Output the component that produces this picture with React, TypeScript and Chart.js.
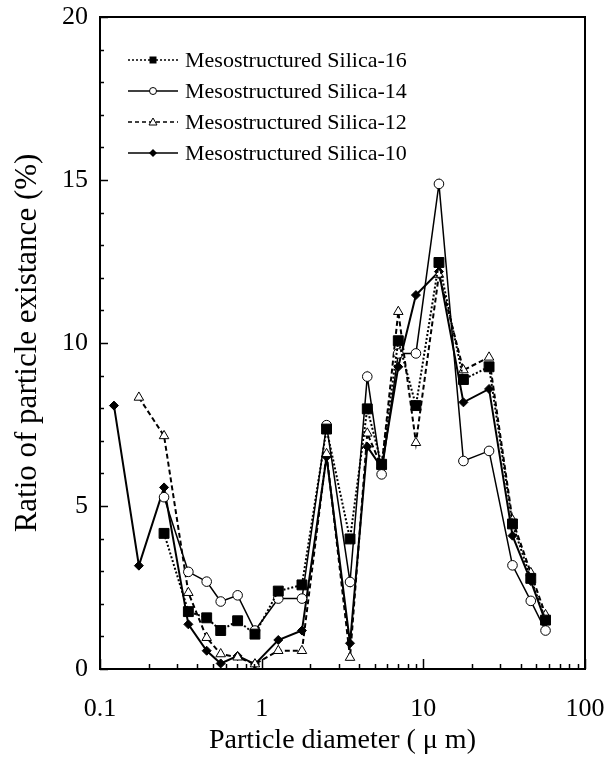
import React, { useEffect, useRef } from 'react';
import { Chart, registerables } from 'chart.js';

Chart.register(...registerables);

// ---- data ----
const diameters = [0.122, 0.174, 0.249, 0.352, 0.457, 0.558, 0.71, 0.909, 1.267, 1.775, 2.52, 3.52, 4.5, 5.52, 7.0, 9.0, 12.49, 17.7, 25.5, 35.6, 46.2, 57.0];

const silica16 = [null, null, 4.16, 1.76, 1.57, 1.18, 1.48, 1.07, 2.39, 2.58, 7.36, 3.99, 7.98, 6.28, 10.07, 8.08, 12.47, 8.88, 9.27, 4.45, 2.78, 1.5];
const silica14 = [null, null, 5.27, 2.98, 2.68, 2.07, 2.26, 1.18, 2.16, 2.16, 7.48, 2.67, 8.97, 5.97, 9.68, 9.68, 14.88, 6.38, 6.69, 3.18, 2.09, 1.18];
const silica12 = [null, 8.33, 7.15, 2.34, 0.96, 0.46, 0.36, 0.15, 0.56, 0.56, 6.6, 0.35, 7.23, 6.2, 10.96, 6.94, 12.1, 9.17, 9.56, 4.57, 2.95, 1.66];
const silica10 = [8.08, 3.17, 5.57, 1.37, 0.56, 0.17, 0.4, 0.15, 0.89, 1.18, 6.51, 0.79, 6.82, 6.18, 9.27, 11.47, 12.19, 8.18, 8.59, 4.09, 2.7, 1.45];

const seriesLabels = ['Mesostructured Silica-16', 'Mesostructured Silica-14', 'Mesostructured Silica-12', 'Mesostructured Silica-10'];

const xMajorValues = [0.1, 1, 10, 100];
const xTickLabels = ['0.1', '1', '10', '100'];
const xMinorMantissas = [2, 3, 4, 5, 6, 7, 8, 9];
const yTickStep = 5;
const yMinorStep = 1;

const xTitle = 'Particle diameter ( \u03bc m)';
const yTitle = 'Ratio of particle existance (%)';

const FONT = "'Liberation Serif', 'Times New Roman', Times, serif";

function toPoints(values: (number | null)[]) {
  const pts: { x: number; y: number }[] = [];
  values.forEach((v, i) => {
    if (v !== null) pts.push({ x: diameters[i], y: v });
  });
  return pts;
}

function allXTicks(): number[] {
  const out: number[] = [];
  for (let d = 0; d < xMajorValues.length - 1; d++) {
    const base = xMajorValues[d];
    out.push(base);
    xMinorMantissas.forEach((m) => out.push(+(base * m).toPrecision(6)));
  }
  out.push(xMajorValues[xMajorValues.length - 1]);
  return out;
}

function isMajorX(v: number) {
  return xMajorValues.some((m) => Math.abs(m - v) / m < 1e-6);
}

// marker drawing for the legend
function drawMarker(ctx: CanvasRenderingContext2D, kind: string, x: number, y: number) {
  ctx.save();
  ctx.setLineDash([]);
  ctx.lineWidth = 1;
  ctx.strokeStyle = '#000';
  ctx.beginPath();
  if (kind === 'rect') {
    ctx.fillStyle = '#000';
    ctx.rect(x - 3.5, y - 3.5, 7, 7);
    ctx.fill();
  } else if (kind === 'circle') {
    ctx.fillStyle = '#fff';
    ctx.arc(x, y, 3.5, 0, Math.PI * 2);
    ctx.fill();
    ctx.stroke();
  } else if (kind === 'triangle') {
    ctx.fillStyle = '#fff';
    ctx.moveTo(x, y - 4);
    ctx.lineTo(x + 4, y + 3);
    ctx.lineTo(x - 4, y + 3);
    ctx.closePath();
    ctx.fill();
    ctx.stroke();
  } else {
    ctx.fillStyle = '#000';
    ctx.moveTo(x, y - 4);
    ctx.lineTo(x + 4, y);
    ctx.lineTo(x, y + 4);
    ctx.lineTo(x - 4, y);
    ctx.closePath();
    ctx.fill();
  }
  ctx.restore();
}

const framePlugin = {
  id: 'frameAndTicks',
  afterDatasetsDraw(chart: any) {
    const { ctx, chartArea } = chart;
    const xs = chart.scales.x;
    const ys = chart.scales.y;
    ctx.save();
    ctx.strokeStyle = '#000';
    ctx.setLineDash([]);
    // x ticks (inward)
    ctx.lineWidth = 1.5;
    allXTicks().forEach((v) => {
      const px = Math.round(xs.getPixelForValue(v)) + 0.5;
      const len = isMajorX(v) ? 10 : 5;
      ctx.beginPath();
      ctx.moveTo(px, chartArea.bottom);
      ctx.lineTo(px, chartArea.bottom - len);
      ctx.stroke();
    });
    // y ticks (inward)
    for (let v = ys.min; v <= ys.max + 1e-9; v += yMinorStep) {
      const py = Math.round(ys.getPixelForValue(v)) + 0.5;
      const len = Math.abs(v % yTickStep) < 1e-9 ? 8 : 4;
      ctx.beginPath();
      ctx.moveTo(chartArea.left, py);
      ctx.lineTo(chartArea.left + len, py);
      ctx.stroke();
    }
    // frame
    ctx.lineWidth = 2;
    ctx.strokeRect(chartArea.left, chartArea.top, chartArea.right - chartArea.left, chartArea.bottom - chartArea.top);
    ctx.restore();
  },
  afterDraw(chart: any) {
    const { ctx } = chart;
    const kinds = ['rect', 'circle', 'triangle', 'rectRot'];
    chart.data.datasets.forEach((ds: any, i: number) => {
      const y = 60 + i * 31;
      ctx.save();
      ctx.strokeStyle = '#000';
      ctx.lineWidth = 1.5;
      ctx.setLineDash(ds.legendDash || []);
      ctx.beginPath();
      ctx.moveTo(128, y);
      ctx.lineTo(178, y);
      ctx.stroke();
      ctx.restore();
      drawMarker(ctx, kinds[i], 153, y);
      ctx.save();
      ctx.fillStyle = '#000';
      ctx.font = `22px ${FONT}`;
      ctx.textBaseline = 'middle';
      ctx.textAlign = 'left';
      ctx.fillText(ds.label, 185, y + 1);
      ctx.restore();
    });
  },
};

export default function App() {
  const canvasRef = useRef<HTMLCanvasElement | null>(null);

  useEffect(() => {
    if (!canvasRef.current) return;
    const common = { borderColor: '#000', pointBorderColor: '#000', pointBorderWidth: 1, tension: 0, fill: false };
    const chart = new Chart(canvasRef.current, {
      type: 'line',
      data: {
        datasets: [
          {
            ...common,
            label: seriesLabels[0],
            data: toPoints(silica16),
            borderWidth: 2,
            borderDash: [2, 2],
            legendDash: [2, 2],
            pointStyle: 'rect',
            pointRadius: 7,
            pointBackgroundColor: '#000',
          } as any,
          {
            ...common,
            label: seriesLabels[1],
            data: toPoints(silica14),
            borderWidth: 1.5,
            pointStyle: 'circle',
            pointRadius: 4.8,
            pointBackgroundColor: '#fff',
          } as any,
          {
            ...common,
            label: seriesLabels[2],
            data: toPoints(silica12),
            borderWidth: 2,
            borderDash: [5, 3],
            legendDash: [4, 3],
            pointStyle: 'triangle',
            pointRadius: 5.5,
            pointBackgroundColor: '#fff',
          } as any,
          {
            ...common,
            label: seriesLabels[3],
            data: toPoints(silica10),
            borderWidth: 2,
            pointStyle: 'rectRot',
            pointRadius: 4.5,
            pointBackgroundColor: '#000',
          } as any,
        ],
      },
      options: {
        responsive: false,
        animation: false,
        events: [],
        layout: { padding: { top: 17, right: 26, left: 0, bottom: 0 } },
        plugins: {
          legend: { display: false },
          tooltip: { enabled: false },
        },
        scales: {
          x: {
            type: 'logarithmic',
            min: 0.1,
            max: 100,
            grid: { display: false, drawTicks: false },
            border: { display: false },
            afterBuildTicks: (scale: any) => {
              scale.ticks = allXTicks().map((v) => ({ value: v, major: isMajorX(v) }));
            },
            afterFit: (scale: any) => {
              scale.height = 91;
              scale.paddingLeft = 0;
              scale.paddingRight = 0;
            },
            ticks: {
              autoSkip: false,
              maxRotation: 0,
              minRotation: 0,
              padding: 25,
              color: '#000',
              font: { family: FONT, size: 26 },
              callback: (v: any) => {
                const idx = xMajorValues.findIndex((m) => Math.abs(m - Number(v)) / m < 1e-6);
                return idx >= 0 ? xTickLabels[idx] : '';
              },
            },
            title: {
              display: true,
              text: xTitle,
              color: '#000',
              font: { family: FONT, size: 28 },
              padding: { top: 0, bottom: 3 },
            },
          },
          y: {
            type: 'linear',
            min: 0,
            max: 20,
            grid: { display: false, drawTicks: false },
            border: { display: false },
            afterFit: (scale: any) => {
              scale.width = 100;
              scale.paddingTop = 0;
              scale.paddingBottom = 0;
            },
            ticks: {
              stepSize: yTickStep,
              padding: 12,
              color: '#000',
              font: { family: FONT, size: 26 },
            },
            title: {
              display: true,
              text: yTitle,
              color: '#000',
              font: { family: FONT, size: 31 },
              padding: { top: 9, bottom: 0 },
            },
          },
        },
      } as any,
      plugins: [framePlugin],
    });
    return () => chart.destroy();
  }, []);

  return (
    <div style={{ position: 'absolute', left: 0, top: 0, width: 611, height: 760, background: '#fff' }}>
      <canvas ref={canvasRef} width={611} height={760} style={{ display: 'block' }} />
    </div>
  );
}
